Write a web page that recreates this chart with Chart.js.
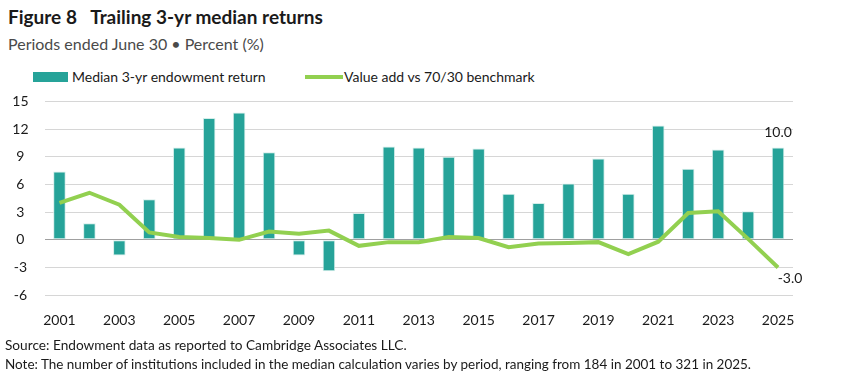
<!DOCTYPE html>
<html>
<head>
<meta charset="utf-8">
<script src="https://cdn.jsdelivr.net/npm/chart.js@4"></script>
<style>
  body { margin: 0; width: 842px; height: 380px; background: #fff; font-family: Lato, "Open Sans", sans-serif; overflow: hidden; position: relative; color: #1a1a1a; }
  .title { position: absolute; left: 8px; top: 5px; font-size: 19px; font-weight: bold; white-space: nowrap; }
  .subtitle { position: absolute; left: 8px; top: 34px; font-size: 16px; color: #4a4a4a; white-space: nowrap; }
  .legend { position: absolute; top: 68px; left: 0; font-size: 14px; white-space: nowrap; }
  .legend .item { position: absolute; top: 0; display: flex; align-items: center; }
  .legend .swatch { display: inline-block; margin-right: 4px; }
  .foot { position: absolute; left: 5px; font-size: 14px; white-space: nowrap; transform-origin: left center; }
  #wrap { position: absolute; left: 0; top: 77px; width: 842px; height: 276px; }
</style>
</head>
<body>
<div class="title">Figure 8&nbsp;&nbsp;&nbsp;Trailing 3-yr median returns</div>
<div class="subtitle">Periods ended June 30 • Percent (%)</div>
<div class="legend">
  <div class="item" style="left:33px"><span class="swatch" style="width:35px;height:10px;background:#26a399"></span>Median 3-yr endowment return</div>
  <div class="item" style="left:305px"><span class="swatch" style="width:38px;height:4px;background:#92d050;margin-right:1px"></span>Value add vs 70/30 benchmark</div>
</div>
<div id="wrap"><canvas id="chart"></canvas></div>
<div class="foot" id="src" style="top:336px">Source: Endowment data as reported to Cambridge Associates LLC.</div>
<div class="foot" id="note" style="top:355px">Note: The number of institutions included in the median calculation varies by period, ranging from 184 in 2001 to 321 in 2025.</div>
<script>
const years = ['2001','2002','2003','2004','2005','2006','2007','2008','2009','2010','2011','2012','2013',
               '2014','2015','2016','2017','2018','2019','2020','2021','2022','2023','2024','2025'];
const medianReturn = [7.4, 1.8, -1.7, 4.4, 10.0, 13.2, 13.8, 9.5, -1.7, -3.4, 2.9, 10.1, 10.0,
                      9.0, 9.9, 5.0, 4.0, 6.1, 8.8, 5.0, 12.4, 7.7, 9.8, 3.1, 10.0];
const valueAdd = [4.0, 5.1, 3.8, 0.8, 0.3, 0.2, 0.0, 0.9, 0.65, 1.0, -0.65, -0.25, -0.25,
                  0.3, 0.2, -0.8, -0.4, -0.35, -0.25, -1.55, -0.2, 2.9, 3.1, 0.1, -3.0];
const yTicks = { min: -6, max: 15, step: 3 };

// stretch/squeeze footnote lines to the reference widths
function fitWidth(id, target) {
  const el = document.getElementById(id);
  el.style.transform = 'scaleX(' + (target / el.offsetWidth) + ')';
}
fitWidth('src', 402);
fitWidth('note', 746);

const endLabels = {
  id: 'endLabels',
  afterDatasetsDraw(chart) {
    const ctx = chart.ctx;
    const last = years.length - 1;
    const bar = chart.getDatasetMeta(1).data[last];
    const pt = chart.getDatasetMeta(0).data[last];
    ctx.save();
    ctx.font = '14px Lato, sans-serif';
    ctx.fillStyle = '#1a1a1a';
    ctx.textAlign = 'center';
    ctx.textBaseline = 'middle';
    ctx.fillText(medianReturn[last].toFixed(1), bar.x, bar.y - 15);
    ctx.fillText(valueAdd[last].toFixed(1), pt.x + 12, pt.y + 11);
    ctx.restore();
  }
};

new Chart(document.getElementById('chart'), {
  data: {
    labels: years,
    datasets: [{
      type: 'line',
      label: 'Value add vs 70/30 benchmark',
      data: valueAdd,
      borderColor: '#92d050',
      borderWidth: 4,
      pointRadius: 0,
      tension: 0,
      order: 0
    }, {
      type: 'bar',
      label: 'Median 3-yr endowment return',
      data: medianReturn,
      backgroundColor: '#26a399',
      borderColor: '#d4eeea',
      borderWidth: 1,
      borderSkipped: false,
      categoryPercentage: 1,
      barPercentage: 0.42,
      order: 1
    }]
  },
  options: {
    responsive: true,
    maintainAspectRatio: false,
    animation: false,
    layout: { padding: { left: 0, right: 49, top: 9, bottom: 7 } },
    plugins: { legend: { display: false }, tooltip: { enabled: false } },
    scales: {
      x: {
        grid: { display: false, drawTicks: false },
        border: { display: false },
        ticks: {
          autoSkip: false, maxRotation: 0, padding: 17, color: '#1a1a1a',
          font: { family: 'Lato', size: 14 },
          callback: (v, i) => (i % 2 === 0 ? years[i] : '')
        }
      },
      y: {
        min: yTicks.min, max: yTicks.max,
        afterFit: (scale) => { scale.width = 44.5; },
        grid: {
          drawTicks: false,
          color: (c) => (c.tick && c.tick.value === 0 ? '#a0a0a0' : '#d6d6d6'),
          lineWidth: 1
        },
        border: { display: false },
        ticks: {
          stepSize: yTicks.step, padding: 16, crossAlign: 'center', color: '#1a1a1a',
          font: { family: 'Lato', size: 14 }
        }
      }
    }
  },
  plugins: [endLabels]
});
</script>
</body>
</html>
